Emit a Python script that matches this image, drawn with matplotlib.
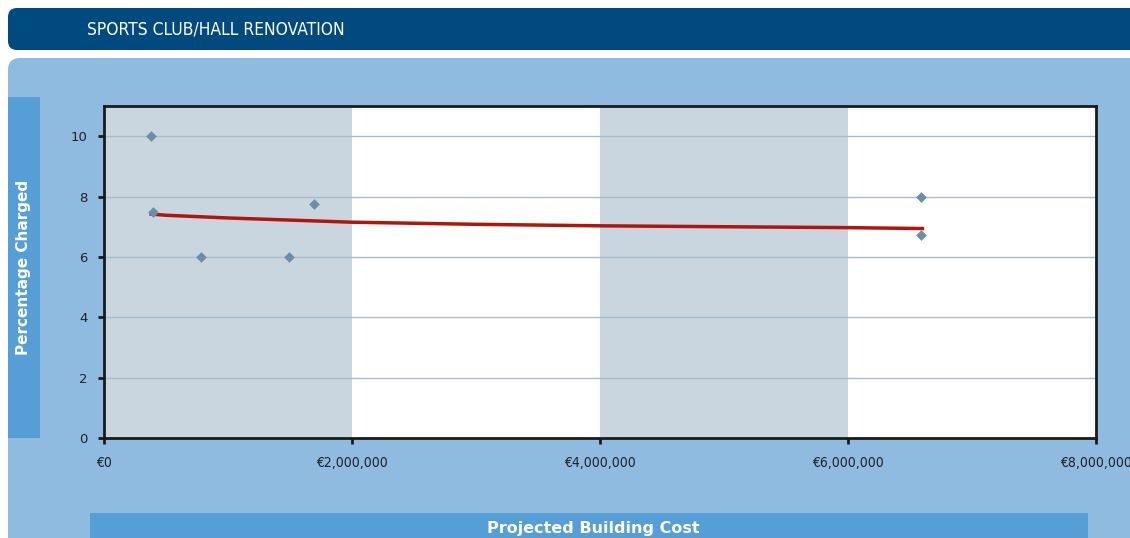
import matplotlib
matplotlib.use("Agg")
import matplotlib.pyplot as plt
from matplotlib.patches import FancyBboxPatch, Rectangle
from matplotlib.ticker import FuncFormatter

# data
cost = [380000, 395000, 780000, 1490000, 1690000, 6590000, 6590000]
pct = [10.0, 7.5, 6.0, 6.0, 7.74, 8.0, 6.74]

trend_x = [380000, 500000, 1000000, 2000000, 3000000, 4000000, 5000000, 6000000, 6600000]
trend_y = [7.42, 7.38, 7.29, 7.15, 7.08, 7.03, 7.00, 6.97, 6.94]

x_ticks = [0, 2000000, 4000000, 6000000, 8000000]
y_ticks = [0, 2, 4, 6, 8, 10]
bands = [(0, 2000000), (4000000, 6000000)]

W, H = 1130, 538

fig = plt.figure(figsize=(W / 100, H / 100), dpi=100)
fig.patch.set_facecolor("white")

# background decoration in pixel coordinates
bg = fig.add_axes([0, 0, 1, 1])
bg.set_xlim(0, W)
bg.set_ylim(H, 0)
bg.axis("off")
bg.add_patch(FancyBboxPatch((8, 8), W + 20, 42, boxstyle="round,pad=0,rounding_size=9",
                            facecolor="#004a80", edgecolor="none"))
bg.text(87, 30, "SPORTS CLUB/HALL RENOVATION", color="white", fontsize=12.5,
        family="DejaVu Sans", fontstretch="condensed", va="center", ha="left")
bg.add_patch(FancyBboxPatch((8, 58), W + 20, H, boxstyle="round,pad=0,rounding_size=12",
                            facecolor="#8fbbe0", edgecolor="none"))
bg.add_patch(Rectangle((8, 97), 32, 341, facecolor="#559fd6", edgecolor="none"))
bg.text(24, 267, "Percentage Charged", color="white", fontsize=11, fontweight="bold",
        rotation=90, va="center", ha="center")
bg.add_patch(Rectangle((90, 513), 998, 40, facecolor="#559fd6", edgecolor="none"))
bg.text(593, 529, "Projected Building Cost", color="white", fontsize=11.5,
        fontweight="bold", va="center", ha="center")

ax = fig.add_axes([104 / W, 1 - 438 / H, 992 / W, 332 / H])
ax.set_facecolor("white")
for x0, x1 in bands:
    ax.axvspan(x0, x1, color="#c9d6df", lw=0, zorder=0)
for yv in y_ticks[1:]:
    ax.axhline(yv, color="#a8bccb", lw=1, zorder=1)

ax.plot(trend_x, trend_y, color="#b0160e", lw=2.5, zorder=3)
ax.scatter(cost, pct, marker="D", s=30, color="#6d8ea8", zorder=4, linewidths=0)

ax.set_xlim(0, 8000000)
ax.set_ylim(0, 11)
ax.set_xticks(x_ticks)
ax.set_yticks(y_ticks)
ax.xaxis.set_major_formatter(FuncFormatter(lambda v, p: "€{:,.0f}".format(v)))
for s in ax.spines.values():
    s.set_color("#1a1a1a")
    s.set_linewidth(2)
ax.tick_params(direction="out", length=4, width=2, color="#1a1a1a", labelcolor="#222222")
ax.tick_params(axis="x", pad=9, labelsize=10)
ax.tick_params(axis="y", pad=8, labelsize=9.5)
for lab in ax.get_xticklabels():
    lab.set_fontstretch("condensed")

fig.savefig("out.png", dpi=100)
